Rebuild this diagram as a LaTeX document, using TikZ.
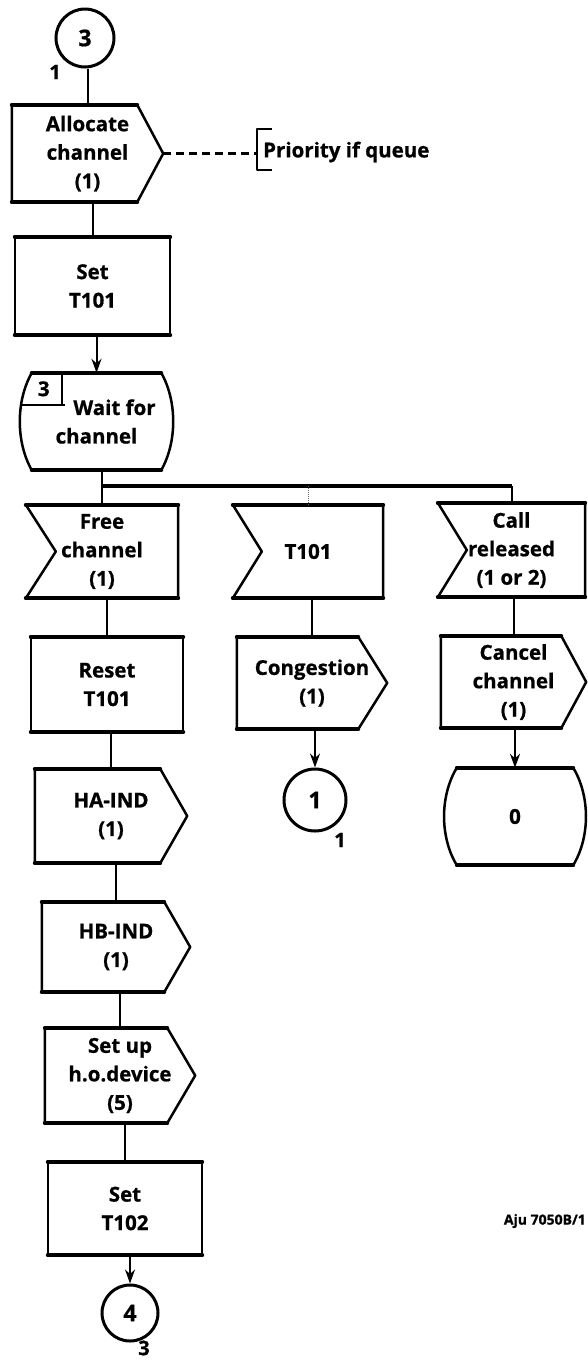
\documentclass[tikz,border=0pt]{standalone}
\usepackage{fontspec}
\setmainfont{Open Sans}[BoldFeatures={FakeBold=0.8}]
\usetikzlibrary{arrows.meta}

% Outline of an output symbol: body plus a point on the right (#2 = depth of the point)
\newcommand\drawout[2]{%
  \draw[edge] (#1.north west) -- ([xshift=-#2pt]#1.north east) -- (#1.east)
    -- ([xshift=-#2pt]#1.south east) -- (#1.south west) -- cycle;
  \draw[hedge] (#1.north west) -- ([xshift=-#2pt]#1.north east)
    (#1.south west) -- ([xshift=-#2pt]#1.south east);}
% Outline of an input symbol: body with a notch on the left (#2 = depth of the notch)
\newcommand\drawin[2]{%
  \draw[edge] (#1.north west) -- (#1.north east) -- (#1.south east)
    -- (#1.south west) -- ([xshift=#2pt]#1.west) -- cycle;
  \draw[hedge] (#1.north west) -- (#1.north east)
    (#1.south west) -- (#1.south east);}
% Outline of a task box
\newcommand\drawtask[1]{%
  \draw[edge] (#1.north west) rectangle (#1.south east);
  \draw[hedge] (#1.north west) -- (#1.north east)
    (#1.south west) -- (#1.south east);}
% Outline of a state symbol: straight top and bottom, bulging sides (#2 = corner inset)
\newcommand\drawstate[2]{%
  \draw[edge] ([xshift=#2pt]#1.north west) -- ([xshift=-#2pt]#1.north east)
    .. controls ([xshift=4pt,yshift=-28pt]#1.north east) and ([xshift=4pt,yshift=28pt]#1.south east)
    .. ([xshift=-#2pt]#1.south east) -- ([xshift=#2pt]#1.south west)
    .. controls ([xshift=-4pt,yshift=28pt]#1.south west) and ([xshift=-4pt,yshift=-28pt]#1.north west)
    .. ([xshift=#2pt]#1.north west) -- cycle;
  \draw[hedge] ([xshift=#2pt]#1.north west) -- ([xshift=-#2pt]#1.north east)
    ([xshift=#2pt]#1.south west) -- ([xshift=-#2pt]#1.south east);}

\begin{document}
\begin{tikzpicture}[x=1pt,y=-1pt,
  edge/.style={line width=2.5pt, line join=round},
  hedge/.style={line width=4pt, line cap=round},
  flow/.style={rectangle, inner sep=0pt, align=center,
    font=\bfseries\fontsize{20.5}{28.5}\selectfont},
  conn/.style={line width=2pt},
  arr/.style={conn, -{Stealth[length=14pt,width=10pt]}},
  barline/.style={line width=3.4pt},
  faint/.style={line width=1pt, densely dotted, black!60},
  dashline/.style={line width=2.2pt, dash pattern=on 8pt off 5pt},
  connector/.style={circle, draw, line width=3pt, inner sep=0pt,
    font=\bfseries\fontsize{23}{23}\selectfont},
  lbl/.style={inner sep=0pt, font=\bfseries\fontsize{20}{20}\selectfont},
]
\fill[white] (0,0) rectangle (587,1363);
\useasboundingbox (0,0) rectangle (587,1363);

% ---- main column ----
\node[connector, minimum size=58pt] (c3) at (85,38) {3};
\node[lbl] (c3lbl) at (55,72) {1};

\node[flow, minimum width=151pt, minimum height=97pt] (alloc) at (87.5,153.5)
  {Allocate\\channel\\(1)};
\drawout{alloc}{26}

\node[flow, minimum width=155pt, minimum height=98pt] (set1) at (92.5,286)
  {Set\\T101};
\drawtask{set1}

\node[flow, minimum width=153pt, minimum height=97pt] (wait) at (96.5,421.5)
  {\hspace*{36pt}Wait for\\channel};
\drawstate{wait}{12}
\draw[edge] ([xshift=42pt]wait.north west) -- ([xshift=42pt,yshift=-32pt]wait.north west);
\draw[edge] ([xshift=2pt,yshift=-32pt]wait.north west) -- ([xshift=45pt,yshift=-32pt]wait.north west);
\node[flow] (wnum) at ([xshift=24pt,yshift=-16pt]wait.north west) {3};

% ---- priority comment ----
\coordinate (br) at (257,152);
\node[anchor=west, inner sep=0pt, font=\bfseries\fontsize{20.5}{20.5}\selectfont]
  (prio) at (263,152) {Priority if queue};
\draw[edge] (272,129) -- (br |- 0,129) -- (br |- 0,170) -- (272,170);
\draw[dashline] (alloc.east) -- (alloc.east -| br);

% ---- branches after the state ----
\node[flow, minimum width=152pt, minimum height=93pt] (free) at (102,551.5)
  {Free\\channel\\(1)};
\drawin{free}{30}
\node[flow, minimum width=150pt, minimum height=93pt] (tin) at (308,551.5)
  {T101};
\drawin{tin}{29}
\node[flow, minimum width=147pt, minimum height=94pt] (callrel) at (511.5,550)
  {Call\\released\\(1 or 2)};
\drawin{callrel}{29}

\coordinate (bar) at (300,486);
\draw[conn] (free.north |- wait.south) -- (free.north);
\draw[barline] (free.north |- bar) -- (callrel.north |- bar);
\draw[conn] (callrel.north |- bar) -- (callrel.north);
\draw[faint] (tin.north |- bar) -- (tin.north);

% ---- left branch ----
\node[flow, minimum width=152pt, minimum height=95pt] (reset) at (107,684.5)
  {Reset\\T101};
\drawtask{reset}
\node[flow, minimum width=152pt, minimum height=94pt] (ha) at (111,816)
  {HA-IND\\(1)};
\drawout{ha}{27}
\node[flow, minimum width=148pt, minimum height=90pt] (hb) at (116,947)
  {HB-IND\\(1)};
\drawout{hb}{26}
\node[flow, minimum width=150pt, minimum height=95pt] (setup) at (120,1075.5)
  {Set up\\h.o.device\\(5)};
\drawout{setup}{28}
\node[flow, minimum width=154pt, minimum height=93pt] (set2) at (125,1208.5)
  {Set\\T102};
\drawtask{set2}
\node[connector, minimum size=56pt] (c4) at (130,1313) {4};
\node[lbl] (c4lbl) at (144,1348) {3};

% ---- middle branch ----
\node[flow, minimum width=150pt, minimum height=92pt] (cong) at (312,683)
  {Congestion\\(1)};
\drawout{cong}{29}
\node[connector, minimum size=62pt] (c1) at (315,800) {1};
\node[lbl] (c1lbl) at (340,840) {1};

% ---- right branch ----
\node[flow, minimum width=145pt, minimum height=92pt] (cancel) at (513.5,682)
  {Cancel\\channel\\(1)};
\drawout{cancel}{25}
\node[flow, minimum width=142pt, minimum height=97pt] (zero) at (515,816.5) {0};
\drawstate{zero}{13}

% ---- connections ----
\draw[conn] (alloc.north |- c3.south) -- (alloc.north);
\draw[conn] (set1.north |- alloc.south) -- (set1.north);
\draw[arr] (wait.north |- set1.south) -- (wait.north);
\draw[conn] (reset.north |- free.south) -- (reset.north);
\draw[conn] (ha.north |- reset.south) -- (ha.north);
\draw[conn] (hb.north |- ha.south) -- (hb.north);
\draw[conn] (setup.north |- hb.south) -- (setup.north);
\draw[conn] (set2.north |- setup.south) -- (set2.north);
\draw[arr] (c4.north |- set2.south) -- (c4.north);
\draw[conn] (cong.north |- tin.south) -- (cong.north);
\draw[arr] (c1.north |- cong.south) -- (c1.north);
\draw[conn] (cancel.north |- callrel.south) -- (cancel.north);
\draw[arr] (zero.north |- cancel.south) -- (zero.north);

% ---- drawing reference ----
\node[anchor=east, inner sep=0pt, font=\bfseries\fontsize{14}{14}\selectfont]
  (ref) at (586,1221) {Aju 7050B/1};
\end{tikzpicture}
\end{document}
